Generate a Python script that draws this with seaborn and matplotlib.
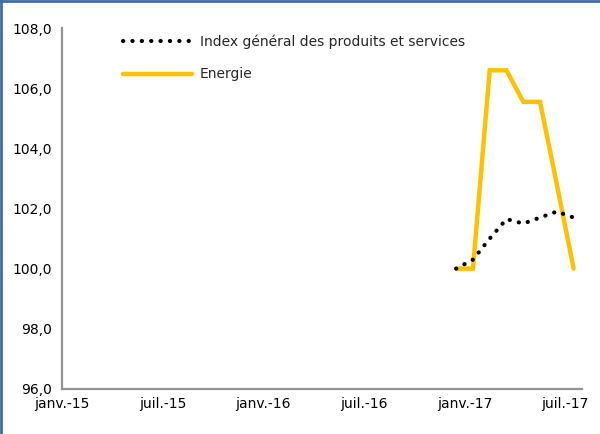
import matplotlib
matplotlib.use("Agg")
import matplotlib.pyplot as plt
import seaborn as sns
import pandas as pd
from matplotlib.lines import Line2D

sns.set_style("white")
plt.rcParams['font.family'] = ['DejaVu Sans']

# month index: 0 = janv.-15 ; data points sit at mid-month
months = [23.5, 24.5, 25.5, 26.5, 27.5, 28.5, 29.5, 30.5]  # déc.-16 .. juil.-17
index_general = [100.0, 100.3, 101.0, 101.65, 101.5, 101.7, 101.9, 101.7]
energie = [100.0, 100.0, 106.6, 106.6, 105.55, 105.55, 102.8, 100.0]
tick_pos = [0, 6, 12, 18, 24, 30]
tick_labels = ["janv.-15", "juil.-15", "janv.-16", "juil.-16", "janv.-17", "juil.-17"]
y_ticks = [96, 98, 100, 102, 104, 106, 108]

df = pd.DataFrame({"mois": months, "Index": index_general, "Energie": energie})

fig = plt.figure(figsize=(6, 4.34), dpi=100)
ax = fig.add_axes([0.103, 0.104, 0.867, 0.831])

dot_style = (0, (0.05, 2.2))
sns.lineplot(data=df, x="mois", y="Energie", ax=ax, color="#FFC000", lw=3.2,
             solid_joinstyle="miter")
sns.lineplot(data=df, x="mois", y="Index", ax=ax, color="black", lw=3.0,
             linestyle=dot_style, dash_capstyle="round")

ax.set_xlim(0, 31)
ax.set_ylim(96, 108)
ax.set_xticks(tick_pos)
ax.set_xticklabels(tick_labels)
ax.set_yticks(y_ticks)
ax.set_yticklabels([f"{v:.1f}".replace(".", ",") for v in y_ticks])
ax.set_xlabel("")
ax.set_ylabel("")

for s in ["top", "right"]:
    ax.spines[s].set_visible(False)
for s in ["left", "bottom"]:
    ax.spines[s].set_color("#939393")
    ax.spines[s].set_linewidth(1.6)
ax.tick_params(axis="both", which="both", direction="out", length=5, width=1.2,
               color="#939393", labelsize=10, labelcolor="black", pad=2)
ax.tick_params(axis="x", length=4)

handles = [
    Line2D([0], [0], color="black", lw=3.0, linestyle=dot_style, dash_capstyle="round"),
    Line2D([0], [0], color="#FFC000", lw=3.2),
]
ax.legend(handles, ["Index général des produits et services", "Energie"],
          loc="upper left", bbox_to_anchor=(0.093, 1.018), frameon=False,
          fontsize=10, handlelength=5.0, handletextpad=0.55, labelspacing=1.35)

# blue frame (top and left)
fig.add_artist(Line2D([0.002, 0.002], [0, 1], transform=fig.transFigure, color="#3e6aa8", lw=2))
fig.add_artist(Line2D([0, 1], [0.997, 0.997], transform=fig.transFigure, color="#3e6aa8", lw=2))

fig.savefig("out.png", dpi=100)
